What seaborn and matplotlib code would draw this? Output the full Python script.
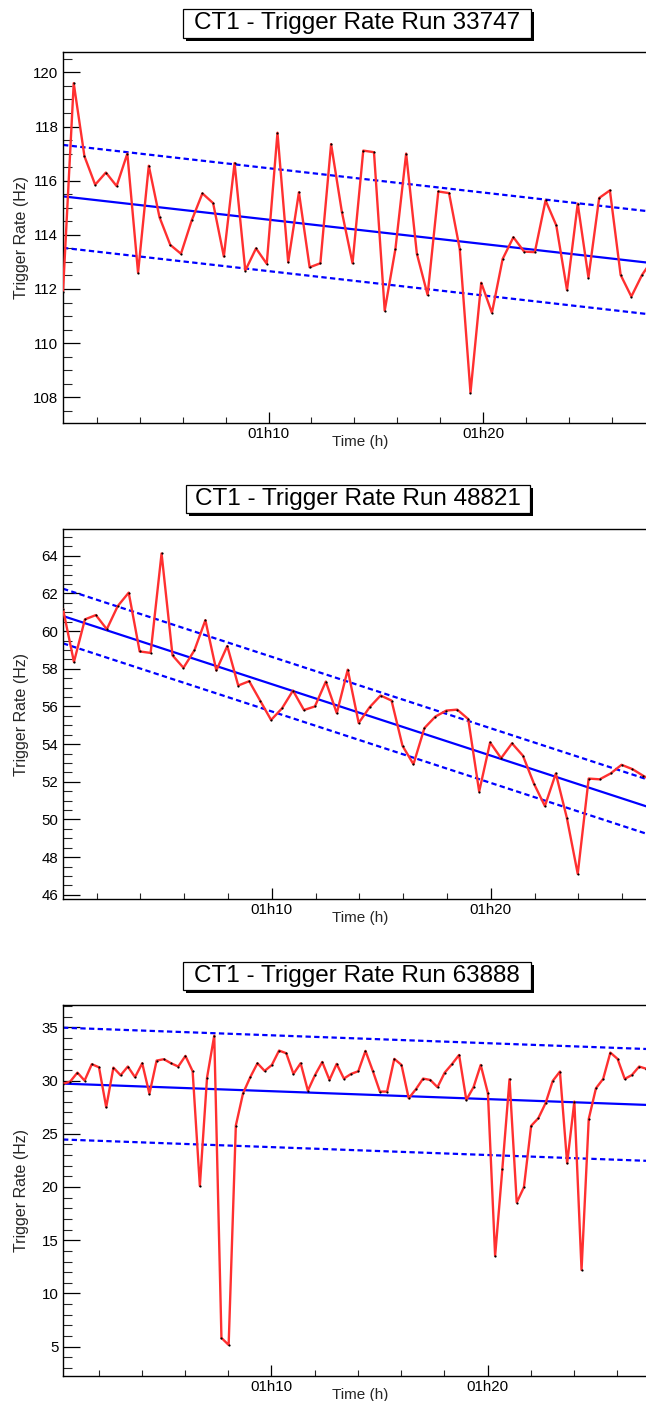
import numpy as np
import pandas as pd
import matplotlib
matplotlib.use('Agg')
import matplotlib.pyplot as plt
import matplotlib.dates as mdates
from matplotlib.patches import Rectangle
from matplotlib.ticker import MultipleLocator
import seaborn as sns

W, H = 646, 1401
RED = '#ff3030'
BLUE = '#0000ff'

runs = ["33747", "48821", "63888"]
start_times = ["01:00:25", "01:00:28", "01:00:21"]
end_times = ["01:27:36", "01:27:05", "01:27:20"]
sample_steps = ["30s", "30s", "20s"]

rate_33747 = [111.9, 119.6, 116.9, 115.85, 116.3, 115.8, 117.0, 112.6, 116.55, 114.65,
              113.63, 113.3, 114.53, 115.53, 115.17, 113.2, 116.65, 112.68, 113.5, 112.93,
              117.77, 112.99, 115.57, 112.8, 112.95, 117.35, 114.86, 112.95, 117.11, 117.05,
              111.2, 113.48, 117.0, 113.3, 111.78, 115.6, 115.54, 113.47, 108.17, 112.23,
              111.12, 113.11, 113.91, 113.38, 113.36, 115.27, 114.35, 111.96, 115.15, 112.42,
              115.36, 115.64, 112.52, 111.72, 112.52, 113.1]
rate_48821 = [61.17, 58.36, 60.62, 60.85, 60.1, 61.33, 62.04, 58.92, 58.84, 64.12,
              58.71, 58.05, 58.98, 60.58, 57.91, 59.21, 57.11, 57.34, 56.31, 55.28,
              55.9, 56.84, 55.81, 56.0, 57.32, 55.64, 57.95, 55.12, 55.96, 56.58,
              56.31, 53.91, 52.93, 54.85, 55.46, 55.78, 55.83, 55.33, 51.48, 54.09,
              53.25, 54.04, 53.38, 51.9, 50.71, 52.44, 50.1, 47.11, 52.17, 52.13,
              52.44, 52.9, 52.67, 52.31, 52.0]
rate_63888 = [29.68, 29.9, 30.74, 29.99, 31.53, 31.24, 27.49, 31.21, 30.49, 31.31,
              30.31, 31.62, 28.74, 31.87, 32.0, 31.62, 31.31, 32.31, 30.87, 20.1,
              30.27, 34.22, 5.83, 5.17, 25.77, 28.8, 30.31, 31.62, 30.9, 31.46,
              32.81, 32.56, 30.62, 31.62, 29.05, 30.52, 31.74, 30.05, 31.56, 30.18,
              30.62, 30.87, 32.78, 30.93, 28.96, 28.96, 32.03, 31.46, 28.33, 29.18,
              30.18, 30.05, 29.37, 30.74, 31.53, 32.4, 28.18, 29.37, 31.46, 28.8,
              13.53, 21.67, 30.12, 18.54, 19.98, 25.74, 26.46, 27.86, 29.96, 30.84,
              22.23, 28.02, 12.21, 26.39, 29.27, 30.15, 32.62, 32.03, 30.15, 30.52,
              31.31, 31.1]
rates = [rate_33747, rate_48821, rate_63888]

# linear fit at the left and right edge of the time window, and band half width
fit_edges = [[115.42, 112.98], [60.8, 50.7], [29.71, 27.71]]
fit_band = [1.9, 1.45, 5.25]

y_limits = [(107.04, 120.74), (45.76, 65.42), (2.28, 37.09)]
y_major = [2, 2, 5]
y_minor = [0.5, 0.5, 1]

# layout in pixels: axes top/bottom, title box x0, x1, y0, y1
axes_px = [(52.3, 423.3), (529, 899.3), (1005, 1375.7)]
title_px = [(183, 531, 9, 38), (186, 530, 485, 513), (183, 531, 962, 990)]

sns.set_style("ticks")
plt.rcParams['font.family'] = ['Liberation Sans', 'DejaVu Sans']

fig = plt.figure(figsize=(W / 100, H / 100), dpi=100)


def title_box(text, x0, x1, y0, y1):
    sh = 3
    fig.add_artist(Rectangle(((x0 + sh) / W, 1 - (y1 + sh) / H), (x1 - x0) / W, (y1 - y0) / H,
                             transform=fig.transFigure, fc='black', ec='black', lw=0))
    fig.add_artist(Rectangle((x0 / W, 1 - y1 / H), (x1 - x0) / W, (y1 - y0) / H,
                             transform=fig.transFigure, fc='white', ec='black', lw=0.9))
    fig.text((x0 + x1) / 2 / W, 1 - (y0 + y1) / 2 / H, text, ha='center', va='center',
             fontsize=17.5, color='black')


for i, run in enumerate(runs):
    top, bottom = axes_px[i]
    ax = fig.add_axes([63 / W, 1 - bottom / H, (W - 63) / W, (bottom - top) / H])

    times = pd.date_range('2000-01-01 ' + start_times[i], periods=len(rates[i]), freq=sample_steps[i])
    df = pd.DataFrame({'time': times, 'rate': rates[i]})
    t0 = pd.Timestamp('2000-01-01 ' + start_times[i])
    t1 = pd.Timestamp('2000-01-01 ' + end_times[i])

    sns.lineplot(data=df, x='time', y='rate', ax=ax, color=RED, lw=1.7, estimator=None,
                 marker='o', markersize=1.6, markerfacecolor='black', markeredgecolor='black',
                 markeredgewidth=0, zorder=3)

    edge_t = [t0, t1]
    fit = np.array(fit_edges[i])
    ax.plot(edge_t, fit, color=BLUE, lw=1.6, zorder=2)
    ax.plot(edge_t, fit + fit_band[i], color=BLUE, lw=1.6, ls=(0, (2.4, 1.5)), zorder=2)
    ax.plot(edge_t, fit - fit_band[i], color=BLUE, lw=1.6, ls=(0, (2.4, 1.5)), zorder=2)

    ax.set_xlim(t0, t1)
    ax.set_ylim(*y_limits[i])

    ax.xaxis.set_major_locator(mdates.MinuteLocator(byminute=[0, 10, 20, 30, 40, 50]))
    ax.xaxis.set_minor_locator(mdates.MinuteLocator(byminute=range(0, 60, 2)))
    ax.xaxis.set_major_formatter(mdates.DateFormatter('%Hh%M'))
    ax.yaxis.set_major_locator(MultipleLocator(y_major[i]))
    ax.yaxis.set_minor_locator(MultipleLocator(y_minor[i]))

    ax.tick_params(axis='y', which='major', direction='in', length=12.2, width=0.9, pad=3.4,
                   labelsize=10.8, colors='black')
    ax.tick_params(axis='y', which='minor', direction='in', length=6.3, width=0.8)
    ax.tick_params(axis='x', which='major', direction='in', length=7.9, width=0.9, pad=2.8,
                   labelsize=10.8, colors='black')
    ax.tick_params(axis='x', which='minor', direction='in', length=4.1, width=0.8)

    for side in ['left', 'bottom', 'top']:
        ax.spines[side].set_linewidth(1.0)
        ax.spines[side].set_color('black')
    ax.spines['right'].set_visible(False)

    ax.set_xlabel('Time (h)', fontsize=11)
    ax.xaxis.set_label_coords((360 - 63) / (W - 63), -19 / (bottom - top))
    ax.xaxis.label.set_va('center')
    ax.set_ylabel('Trigger Rate (Hz)', fontsize=11.5)
    ax.yaxis.set_label_coords((22 - 63) / (W - 63), 0.5)
    ax.yaxis.label.set_va('center')

    title_box(f'CT1 - Trigger Rate Run {run}', *title_px[i])

fig.savefig('out.png', dpi=100)
